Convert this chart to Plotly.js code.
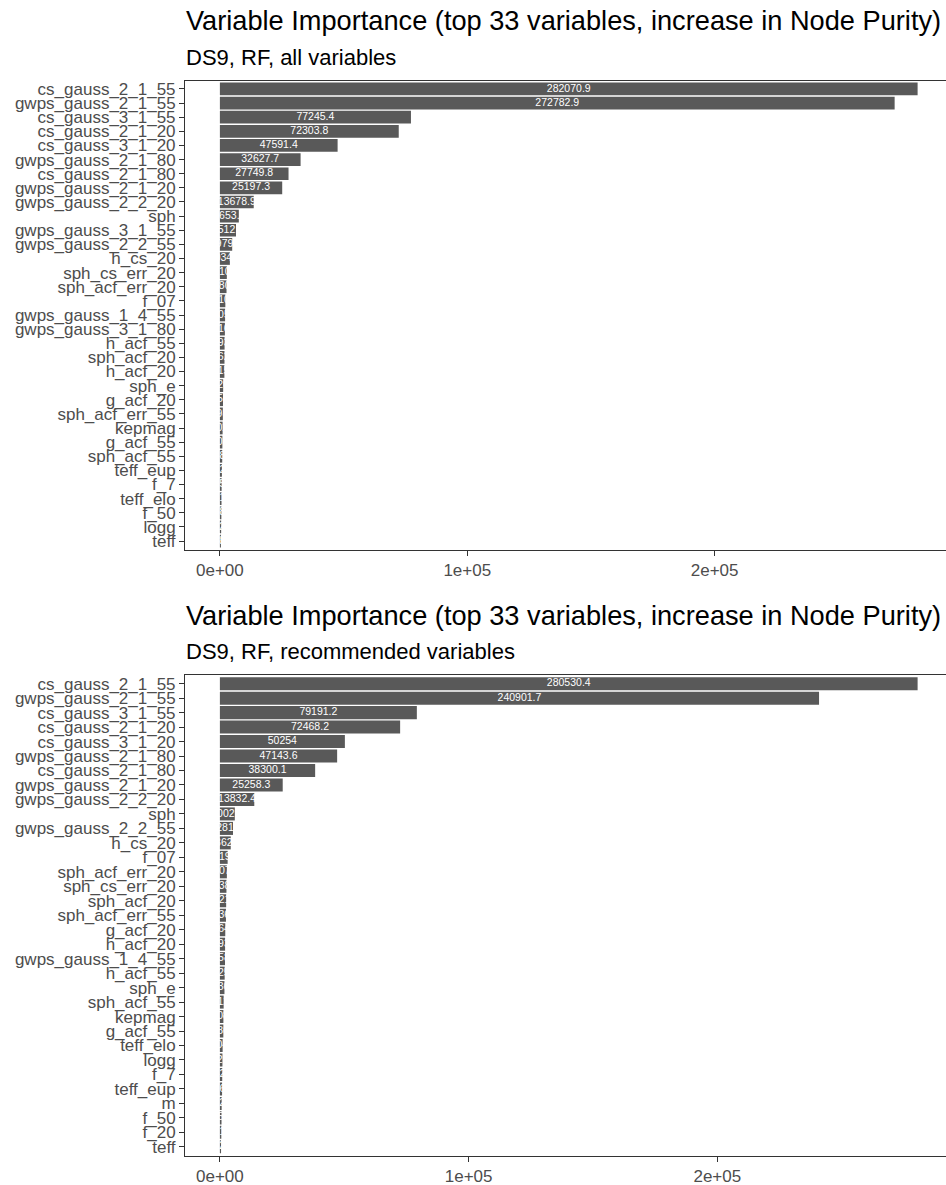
<!DOCTYPE html>
<html>
<head>
<meta charset="utf-8">
<script src="https://cdn.plot.ly/plotly-3.0.1.min.js"></script>
<style>
  html, body { margin: 0; padding: 0; background: #ffffff; overflow: hidden; }
  #chart { width: 960px; height: 1185px; }
</style>
</head>
<body>
<div id="chart"></div>
<script>
// Random forest variable importance (increase in node purity), DS9

// Panel 1: all variables
const allVarNames = [
  "cs_gauss_2_1_55", "gwps_gauss_2_1_55", "cs_gauss_3_1_55", "cs_gauss_2_1_20",
  "cs_gauss_3_1_20", "gwps_gauss_2_1_80", "cs_gauss_2_1_80", "gwps_gauss_2_1_20",
  "gwps_gauss_2_2_20", "sph", "gwps_gauss_3_1_55", "gwps_gauss_2_2_55", "h_cs_20",
  "sph_cs_err_20", "sph_acf_err_20", "f_07", "gwps_gauss_1_4_55", "gwps_gauss_3_1_80",
  "h_acf_55", "sph_acf_20", "h_acf_20", "sph_e", "g_acf_20", "sph_acf_err_55",
  "kepmag", "g_acf_55", "sph_acf_55", "teff_eup", "f_7", "teff_elo", "f_50", "logg", "teff"
];
const allVarPurity = [
  282070.9, 272782.9, 77245.4, 72303.8,
  47591.4, 32627.7, 27749.8, 25197.3,
  13678.9, 7653.2, 6512.4, 4979.6, 4034.1,
  2810.5, 2680.3, 2210.7, 2105.1, 2016.8,
  1893.2, 1862.5, 1815.9, 1320.4, 1254.7, 1198.3,
  1102.6, 1003.8, 948.2, 812.5, 705.3, 661.9, 598.4, 512.7, 418.6
];

// Panel 2: recommended variables
const recVarNames = [
  "cs_gauss_2_1_55", "gwps_gauss_2_1_55", "cs_gauss_3_1_55", "cs_gauss_2_1_20",
  "cs_gauss_3_1_20", "gwps_gauss_2_1_80", "cs_gauss_2_1_80", "gwps_gauss_2_1_20",
  "gwps_gauss_2_2_20", "sph", "gwps_gauss_2_2_55", "h_cs_20", "f_07",
  "sph_acf_err_20", "sph_cs_err_20", "sph_acf_20", "sph_acf_err_55", "g_acf_20",
  "h_acf_20", "gwps_gauss_1_4_55", "h_acf_55", "sph_e", "sph_acf_55", "kepmag",
  "g_acf_55", "teff_elo", "logg", "f_7", "teff_eup", "m", "f_50", "f_20", "teff"
];
const recVarPurity = [
  280530.4, 240901.7, 79191.2, 72468.2,
  50254, 47143.6, 38300.1, 25258.3,
  13832.4, 6002.5, 5281.3, 4362.7, 3119.4,
  2807.1, 2638.5, 2521.8, 2436.2, 2164.9,
  2093.4, 2058.6, 1925.3, 1836.7, 1512.2, 1408.9,
  1386.1, 1104.2, 1021.5, 942.8, 876.3, 712.4, 655.0, 571.8, 462.9
];

const xTickVals = [0, 100000, 200000];
const xTickText = ["0e+00", "1e+05", "2e+05"];

const plotTitle = "Variable Importance (top 33 variables, increase in Node Purity)";
const subTitleAll = "DS9, RF, all variables";
const subTitleRec = "DS9, RF, recommended variables";

// ---- drawing ----
const W = 960, H = 1185;
const FONT = "'Liberation Sans', Arial, Helvetica, sans-serif";
const NARROW = "'Liberation Sans Narrow', 'Arial Narrow', 'Liberation Sans', sans-serif";
const BAR = "#595959";
const INK = "#333333";
const TICKTXT = "#4d4d4d";

const fmt = v => String(Number(v.toFixed(1)));

function px2fy(py) { return 1 - py / H; }

function barTraces(names, vals, xa, ya) {
  return [
    {
      type: "bar", orientation: "h",
      x: vals, y: names, xaxis: xa, yaxis: ya,
      marker: { color: BAR, line: { width: 0 } },
      hoverinfo: "skip"
    },
    {
      type: "scatter", mode: "text",
      x: vals.map(v => v / 2), y: names, xaxis: xa, yaxis: ya,
      text: vals.map(fmt),
      textposition: "middle center",
      textfont: { family: NARROW, size: 10.5, color: "#ffffff" },
      hoverinfo: "skip", cliponaxis: false
    }
  ];
}

function xAxis(maxVal, anchor) {
  return {
    domain: [185 / W, 952.5 / W],
    anchor: anchor,
    range: [-0.05 * maxVal, 1.05 * maxVal],
    tickmode: "array", tickvals: xTickVals, ticktext: xTickText,
    ticks: "outside", ticklen: 5, tickwidth: 1, tickcolor: INK,
    tickfont: { family: FONT, size: 17, color: TICKTXT },
    showline: true, mirror: true, linecolor: INK, linewidth: 1,
    showgrid: false, zeroline: false, automargin: false, fixedrange: true
  };
}

function yAxis(names, top, bottom, anchor) {
  return {
    domain: [px2fy(bottom), px2fy(top)],
    anchor: anchor,
    type: "category",
    categoryarray: names, categoryorder: "array",
    range: [names.length - 0.4, -0.6],
    // every variable gets its own label, even where they crowd
    tickmode: "array", tickvals: names, ticktext: names,
    ticks: "outside", ticklen: 5, tickwidth: 1, tickcolor: INK,
    tickfont: { family: FONT, size: 17, color: TICKTXT },
    showline: true, mirror: true, linecolor: INK, linewidth: 1,
    showgrid: false, zeroline: false, automargin: false, fixedrange: true
  };
}

function titleAnn(text, cy, size) {
  return {
    text: text, xref: "paper", yref: "paper",
    x: 184 / W, y: px2fy(cy), xanchor: "left", yanchor: "middle",
    showarrow: false, font: { family: FONT, size: size, color: "#000000" }
  };
}

const data = [
  ...barTraces(allVarNames, allVarPurity, "x", "y"),
  ...barTraces(recVarNames, recVarPurity, "x2", "y2")
];

const layout = {
  width: W, height: H,
  margin: { l: 0, r: 0, t: 0, b: 0, pad: 0 },
  paper_bgcolor: "#ffffff", plot_bgcolor: "#ffffff",
  showlegend: false,
  bargap: 0.1,
  xaxis: xAxis(Math.max(...allVarPurity), "y"),
  yaxis: yAxis(allVarNames, 80.5, 549.5, "x"),
  xaxis2: xAxis(Math.max(...recVarPurity), "y2"),
  yaxis2: yAxis(recVarNames, 675, 1155.5, "x2"),
  annotations: [
    titleAnn(plotTitle, 21, 27.2),
    titleAnn(subTitleAll, 57, 22),
    titleAnn(plotTitle, 615.5, 27.2),
    titleAnn(subTitleRec, 651.5, 22)
  ]
};

Plotly.newPlot("chart", data, layout, { displayModeBar: false, staticPlot: true });
</script>
</body>
</html>
